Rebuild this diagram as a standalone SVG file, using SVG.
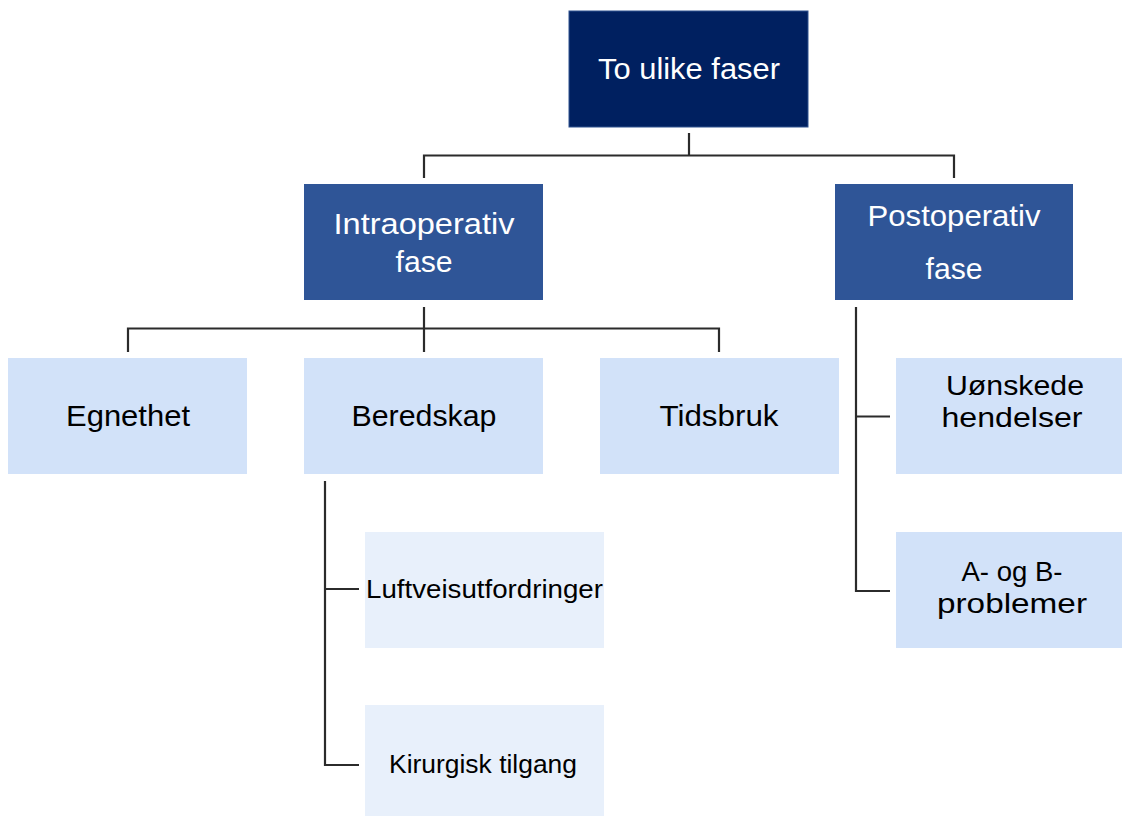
<svg xmlns="http://www.w3.org/2000/svg" width="1122" height="816" viewBox="0 0 1122 816">
<style>
.t{font-family:"Liberation Sans",Arial,sans-serif;text-anchor:middle}
.big{font-size:30px}
.mid{font-size:28px}
.sm{font-size:25px}
.w{fill:#ffffff}
.k{fill:#000000}
.c{fill:none;stroke:#2b2b2b;stroke-width:2.2}
</style>
<rect width="1122" height="816" fill="#ffffff"/>
<g id="connectors">
<path class="c" d="M689,133 V155.5"/>
<path class="c" d="M424,178 V155.5 H954 V178"/>
<path class="c" d="M424,307 V352"/>
<path class="c" d="M128,352 V328.5 H719 V352"/>
<path class="c" d="M856,307 V591 H890"/>
<path class="c" d="M856,416.5 H890"/>
<path class="c" d="M325,481 V765 H359"/>
<path class="c" d="M325,589 H359"/>
</g>
<g id="n-top">
<rect x="569" y="11" width="239" height="116" fill="#002060" stroke="#2F528F" stroke-width="1"/>
<text class="t big w" x="689" y="79" textLength="182" lengthAdjust="spacingAndGlyphs">To ulike faser</text>
</g>
<g id="n-intra">
<rect x="304" y="184" width="239" height="116" fill="#2F5597"/>
<text class="t big w" x="424" y="234" textLength="181" lengthAdjust="spacingAndGlyphs">Intraoperativ</text>
<text class="t big w" x="424" y="272" textLength="57" lengthAdjust="spacingAndGlyphs">fase</text>
</g>
<g id="n-post">
<rect x="835" y="184" width="238" height="116" fill="#2F5597"/>
<text class="t big w" x="954" y="226" textLength="173" lengthAdjust="spacingAndGlyphs">Postoperativ</text>
<text class="t big w" x="954" y="279" textLength="57" lengthAdjust="spacingAndGlyphs">fase</text>
</g>
<g id="n-egnethet">
<rect x="8" y="358" width="239" height="116" fill="#D2E2F9"/>
<text class="t big k" x="128" y="426" textLength="124" lengthAdjust="spacingAndGlyphs">Egnethet</text>
</g>
<g id="n-beredskap">
<rect x="304" y="358" width="239" height="116" fill="#D2E2F9"/>
<text class="t big k" x="424" y="426" textLength="145" lengthAdjust="spacingAndGlyphs">Beredskap</text>
</g>
<g id="n-tidsbruk">
<rect x="600" y="358" width="239" height="116" fill="#D2E2F9"/>
<text class="t big k" x="719" y="426" textLength="119" lengthAdjust="spacingAndGlyphs">Tidsbruk</text>
</g>
<g id="n-uonskede">
<rect x="896" y="358" width="226" height="116" fill="#D2E2F9"/>
<text class="t mid k" x="1015" y="395" textLength="138" lengthAdjust="spacingAndGlyphs">Uønskede</text>
<text class="t mid k" x="1012" y="427" textLength="141" lengthAdjust="spacingAndGlyphs">hendelser</text>
</g>
<g id="n-ab">
<rect x="896" y="532" width="226" height="116" fill="#D2E2F9"/>
<text class="t mid k" x="1012" y="581" textLength="101" lengthAdjust="spacingAndGlyphs">A- og B-</text>
<text class="t mid k" x="1012" y="613" textLength="150" lengthAdjust="spacingAndGlyphs">problemer</text>
</g>
<g id="n-luftvei">
<rect x="365" y="532" width="239" height="116" fill="#E8F0FB"/>
<text class="t sm k" x="484.5" y="598" textLength="237" lengthAdjust="spacingAndGlyphs">Luftveisutfordringer</text>
</g>
<g id="n-kirurgisk">
<rect x="365" y="705" width="239" height="111" fill="#E8F0FB"/>
<text class="t sm k" x="483" y="773" textLength="188" lengthAdjust="spacingAndGlyphs">Kirurgisk tilgang</text>
</g>
</svg>
